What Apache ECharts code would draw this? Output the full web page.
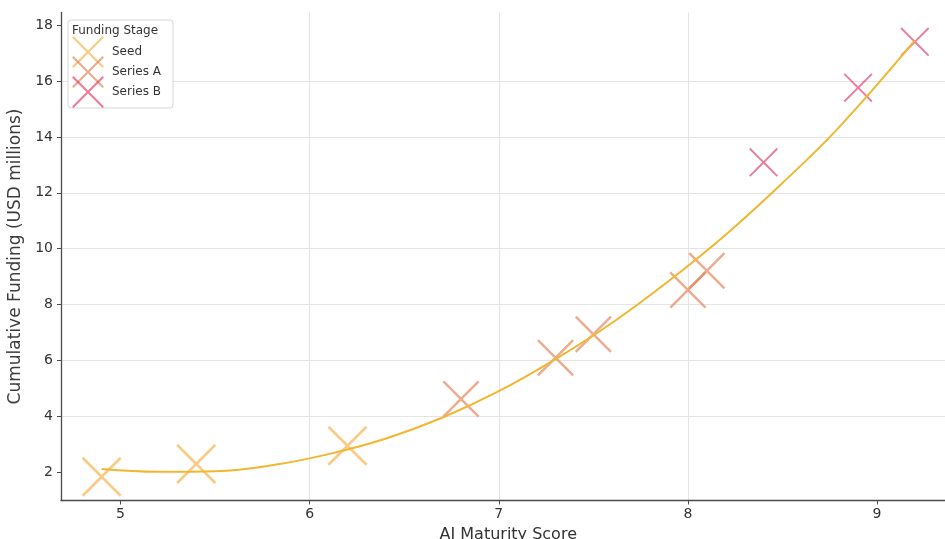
<!DOCTYPE html>
<html><head><meta charset="utf-8">
<script src="https://cdn.jsdelivr.net/npm/echarts@6/dist/echarts.min.js"></script>
<style>html,body{margin:0;padding:0;background:#fff}#c{width:945px;height:539px}</style>
</head><body><div id="c"></div>
<script>
// ---- data ----
const stages = ['Seed', 'Series A', 'Series B'];
const seedX = [4.9, 5.4, 6.2];
const seedY = [1.84, 2.3, 2.95];
const seriesAX = [6.8, 7.3, 7.5, 8.0, 8.1];
const seriesAY = [4.62, 6.1, 6.94, 8.52, 9.21];
const seriesBX = [8.4, 8.9, 9.2];
const seriesBY = [13.09, 15.76, 17.4];
const trendX = [4.9, 5.2, 5.5, 5.8, 6.1, 6.4, 6.7, 7.0, 7.3, 7.6, 7.9, 8.2, 8.5, 8.8, 9.2];
const trendY = [2.12, 2.02, 2.04, 2.25, 2.65, 3.2, 3.95, 4.9, 6.05, 7.35, 8.85, 10.5, 12.35, 14.35, 17.45];
const xTicks = [5, 6, 7, 8, 9];
const yTicks = [2, 4, 6, 8, 10, 12, 14, 16, 18];
const xTitle = 'AI Maturity Score';
const yTitle = 'Cumulative Funding (USD millions)';
const legendTitle = 'Funding Stage';

// ---- styling ----
const FONT = 'DejaVu Sans';
const colors = {'Seed': '#F4B44C', 'Series A': '#E3855A', 'Series B': '#E2426C'};
const sizes = {'Seed': 40, 'Series A': 37, 'Series B': 29};
const d = 4.8;
const X_PATH = 'path://M0,' + d + 'L' + d + ',0L50,' + (50 - d) + 'L' + (100 - d) + ',0L100,' + d +
  'L' + (50 + d) + ',50L100,' + (100 - d) + 'L' + (100 - d) + ',100L50,' + (50 + d) +
  'L' + d + ',100L0,' + (100 - d) + 'L' + (50 - d) + ',50Z';

const zip = (xs, ys) => xs.map((x, i) => [x, ys[i]]);
const pts = {'Seed': zip(seedX, seedY), 'Series A': zip(seriesAX, seriesAY), 'Series B': zip(seriesBX, seriesBY)};

const chart = echarts.init(document.getElementById('c'), null, {renderer: 'canvas'});
const scatterSeries = stages.map(s => ({
  name: s, type: 'scatter', data: pts[s], symbol: X_PATH, symbolSize: sizes[s],
  itemStyle: {color: colors[s], opacity: 0.68}, z: 3, clip: false
}));

chart.setOption({
  animation: false,
  backgroundColor: '#fff',
  textStyle: {fontFamily: FONT},
  grid: {left: 61, right: -10.5, top: 12.5, bottom: 38.5, containLabel: false, outerBoundsMode: 'none'},
  xAxis: {
    type: 'value', min: 4.685, max: 9.415, minInterval: 1, maxInterval: 1, splitNumber: 5,
    name: xTitle, nameLocation: 'middle', nameGap: 22,
    nameTextStyle: {fontFamily: FONT, fontSize: 16, color: '#333'},
    axisLine: {show: true, onZero: false, lineStyle: {color: '#4a4a4a', width: 1.3}},
    axisTick: {show: true, length: 4, lineStyle: {color: '#4a4a4a'}, customValues: xTicks},
    axisLabel: {fontFamily: FONT, fontSize: 14, color: '#333', margin: 7,
      formatter: v => xTicks.includes(v) ? String(v) : ''},
    splitLine: {show: true, showMinLine: false, showMaxLine: false, lineStyle: {color: '#e4e4e4', width: 1}}
  },
  yAxis: {
    type: 'value', min: 0.99, max: 18.45, minInterval: 2, maxInterval: 2, splitNumber: 9,
    name: yTitle, nameLocation: 'middle', nameGap: 34,
    nameTextStyle: {fontFamily: FONT, fontSize: 17, color: '#3c3c3c'},
    axisLine: {show: true, onZero: false, lineStyle: {color: '#4a4a4a', width: 1.3}},
    axisTick: {show: true, length: 4, lineStyle: {color: '#4a4a4a'}, customValues: yTicks},
    axisLabel: {fontFamily: FONT, fontSize: 14, color: '#333', margin: 8,
      formatter: v => yTicks.includes(v) ? String(v) : ''},
    splitLine: {show: true, showMinLine: false, showMaxLine: false, lineStyle: {color: '#e4e4e4', width: 1}}
  },
  legend: {
    data: stages, orient: 'vertical', left: 68, top: 20,
    itemWidth: 38, itemHeight: 32, itemGap: -12,
    padding: [16, 12, 0, 4],
    backgroundColor: '#fff', borderColor: '#d6d6d6', borderWidth: 1, borderRadius: 3,
    textStyle: {fontFamily: FONT, fontSize: 12, color: '#333'}
  },
  graphic: [{
    type: 'text', left: 72, top: 25, z: 100,
    style: {text: legendTitle, font: '12px "DejaVu Sans"', fill: '#333'}
  }],
  series: [
    ...scatterSeries,
    {
      name: 'trend', type: 'line', data: zip(trendX, trendY), smooth: 0.4, showSymbol: false,
      symbol: 'none', lineStyle: {color: '#F2B630', width: 2}, z: 4, silent: true
    }
  ]
});
</script>
</body></html>
